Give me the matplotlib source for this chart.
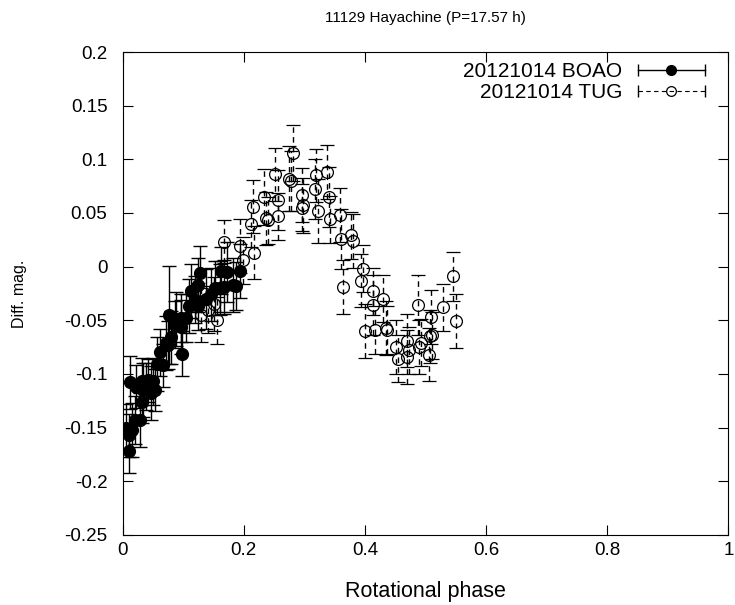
import matplotlib
matplotlib.use("Agg")
import matplotlib.pyplot as plt
from matplotlib.lines import Line2D
from matplotlib.legend_handler import HandlerLine2D, HandlerTuple

plt.rcParams['font.family'] = ['Liberation Sans', 'DejaVu Sans']

# BOAO night (filled circles)
boao_phase = [0.005, 0.010, 0.015, 0.010, 0.012, 0.020, 0.022, 0.028, 0.031, 0.031,
              0.033, 0.039, 0.042, 0.047, 0.050, 0.053, 0.056, 0.062, 0.066, 0.072,
              0.075, 0.076, 0.079, 0.086, 0.088, 0.097, 0.097, 0.098, 0.105, 0.110,
              0.113, 0.119, 0.124, 0.124, 0.127, 0.138, 0.146, 0.152, 0.160, 0.163,
              0.168, 0.172, 0.182, 0.187, 0.193]
boao_mag = [-0.150, -0.157, -0.152, -0.172, -0.108, -0.143, -0.112, -0.143, -0.107, -0.126,
            -0.115, -0.112, -0.106, -0.118, -0.107, -0.115, -0.091, -0.080, -0.092, -0.071,
            -0.073, -0.045, -0.066, -0.054, -0.049, -0.048, -0.056, -0.081, -0.048, -0.037,
            -0.023, -0.031, -0.017, -0.037, -0.006, -0.030, -0.026, -0.020, -0.020, -0.004,
            -0.019, -0.005, -0.017, -0.018, -0.004]
boao_err = [0.022, 0.020, 0.025, 0.020, 0.025, 0.022, 0.020, 0.025, 0.022, 0.020,
            0.025, 0.022, 0.020, 0.025, 0.022, 0.020, 0.025, 0.022, 0.020, 0.025,
            0.022, 0.046, 0.025, 0.022, 0.025, 0.022, 0.025, 0.021, 0.022, 0.025,
            0.025, 0.022, 0.025, 0.022, 0.025, 0.028, 0.025, 0.025, 0.022, 0.022,
            0.025, 0.028, 0.025, 0.022, 0.025]

# TUG night (open circles)
tug_phase = [0.130, 0.140, 0.150, 0.155, 0.160, 0.168, 0.193, 0.198, 0.217, 0.212,
             0.215, 0.233, 0.237, 0.240, 0.252, 0.256, 0.257, 0.281, 0.275, 0.278,
             0.296, 0.298, 0.296, 0.319, 0.318, 0.322, 0.338, 0.340, 0.343, 0.359,
             0.360, 0.363, 0.377, 0.381, 0.396, 0.394, 0.414, 0.4135, 0.400, 0.416,
             0.430, 0.434, 0.437, 0.451, 0.454, 0.470, 0.473, 0.470, 0.488, 0.492,
             0.489, 0.509, 0.511, 0.507, 0.506, 0.528, 0.546, 0.551]
tug_mag = [-0.045, -0.040, -0.035, -0.050, -0.020, 0.023, 0.019, 0.006, 0.013, 0.040,
           0.056, 0.065, 0.045, 0.043, 0.086, 0.062, 0.047, 0.106, 0.082, 0.080,
           0.067, 0.057, 0.055, 0.085, 0.072, 0.052, 0.088, 0.065, 0.044, 0.048,
           0.026, -0.019, 0.029, 0.024, -0.002, -0.013, -0.023, -0.036, -0.060, -0.059,
           -0.030, -0.057, -0.059, -0.075, -0.086, -0.069, -0.078, -0.084, -0.036, -0.071,
           -0.075, -0.047, -0.064, -0.065, -0.082, -0.038, -0.009, -0.051]
tug_err = [0.025, 0.022, 0.025, 0.022, 0.025, 0.020, 0.025, 0.022, 0.025, 0.022,
           0.025, 0.026, 0.025, 0.022, 0.025, 0.028, 0.022, 0.026, 0.030, 0.028,
           0.025, 0.026, 0.022, 0.025, 0.028, 0.030, 0.025, 0.028, 0.022, 0.025,
           0.028, 0.025, 0.022, 0.025, 0.022, 0.025, 0.022, 0.028, 0.025, 0.022,
           0.022, 0.025, 0.022, 0.025, 0.022, 0.025, 0.022, 0.025, 0.028, 0.022,
           0.025, 0.025, 0.022, 0.025, 0.025, 0.022, 0.023, 0.025]

fig = plt.figure(figsize=(7.35, 6.05), dpi=100)
ax = fig.add_axes([0.167, 0.116, 0.824, 0.798])

# filled circles, solid bars
ax.errorbar(boao_phase, boao_mag, yerr=boao_err, fmt='o', color='black',
            markersize=8.5, capsize=5, elinewidth=1, capthick=1)

# open circles, dashed bars
tug = ax.errorbar(tug_phase, tug_mag, yerr=tug_err, fmt='o', color='black',
                  mfc='none', markersize=8.5, mew=0.9, capsize=5,
                  elinewidth=1, capthick=1)
tug[2][0].set_linestyle((0, (4, 3)))

ax.set_xlim(0, 1)
ax.set_ylim(-0.25, 0.2)
ax.set_xticks([0, 0.2, 0.4, 0.6, 0.8, 1])
ax.set_xticklabels(['0', '0.2', '0.4', '0.6', '0.8', '1'])
ax.set_yticks([-0.25, -0.2, -0.15, -0.1, -0.05, 0, 0.05, 0.1, 0.15, 0.2])
ax.set_yticklabels(['-0.25', '-0.2', '-0.15', '-0.1', '-0.05', '0', '0.05', '0.1', '0.15', '0.2'])
ax.tick_params(direction='in', top=True, right=True, length=7, labelsize=13.5)
ax.tick_params(axis='y', pad=11)
ax.tick_params(axis='x', pad=5)

ax.set_xlabel('Rotational phase', fontsize=15.5, va='center')
ax.xaxis.set_label_coords(0.5, -0.118)
ax.set_ylabel('Diff. mag.', fontsize=11.5, va='center')
ax.yaxis.set_label_coords(-0.17, 0.5)
ax.text(0.5, 1.07, '11129 Hayachine (P=17.57 h)', fontsize=11,
        ha='center', va='center', transform=ax.transAxes)

# legend like gnuplot: line with end caps and a marker in the middle
b_line = Line2D([], [], color='black', lw=1, marker='|', markersize=8)
b_dot = Line2D([], [], color='black', ls='none', marker='o', markersize=7)
t_line = Line2D([], [], color='black', lw=0.8, ls=(0, (4, 3)), marker='|', markersize=8)
t_dot = Line2D([], [], color='black', ls='none', marker='o', mfc='none', markersize=7, mew=0.9)
hmap = {b_line: HandlerLine2D(numpoints=2), t_line: HandlerLine2D(numpoints=2),
        tuple: HandlerTuple(ndivide=1)}
ax.legend([(b_line, b_dot), (t_line, t_dot)], ['20121014 BOAO', '20121014 TUG'],
          handler_map=hmap, loc='upper right', bbox_to_anchor=(0.985, 0.996),
          frameon=False, markerfirst=False, fontsize=15, handlelength=3.8,
          handletextpad=0.45, labelspacing=0.08, borderaxespad=0.0)

fig.savefig('out.png', dpi=100)
